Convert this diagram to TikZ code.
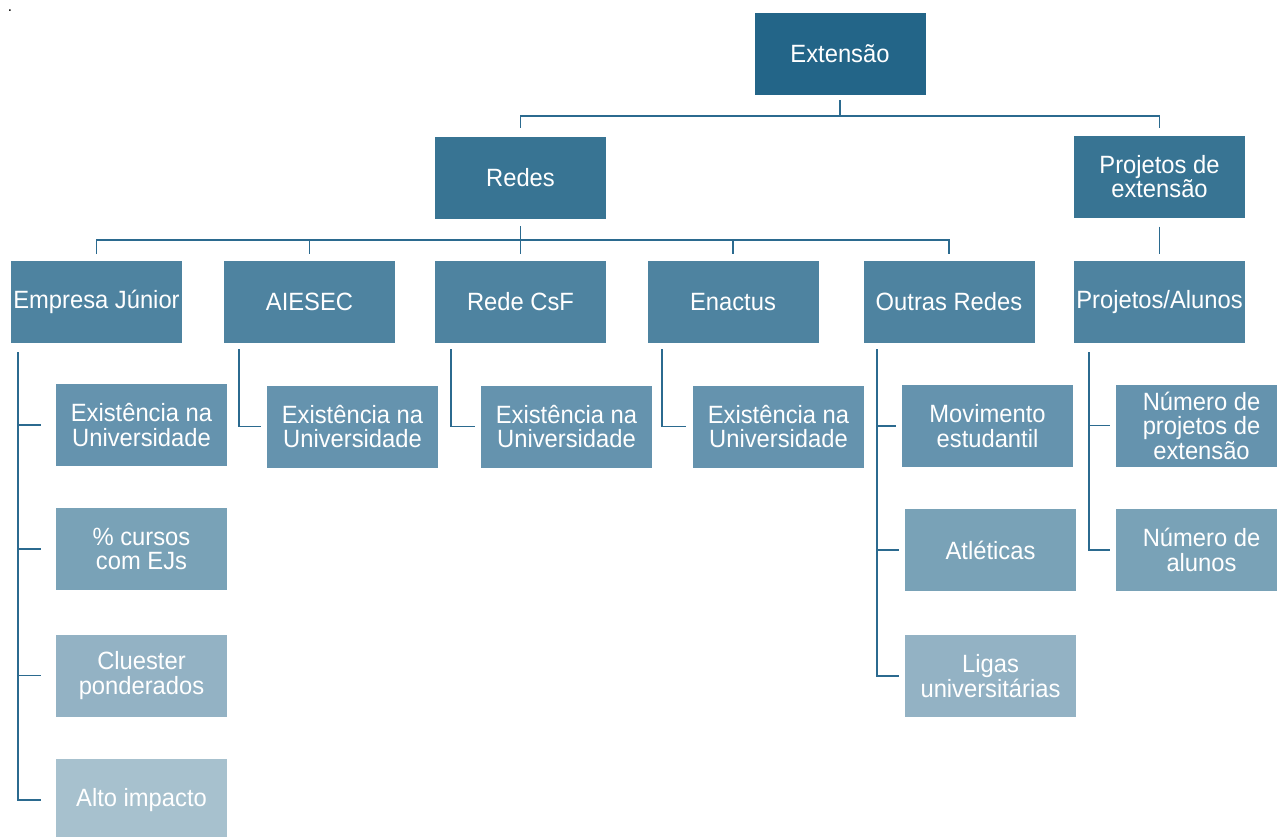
\documentclass[tikz,border=0pt]{standalone}
\usepackage{fontspec}
\setmainfont{Liberation Sans}[FakeStretch=0.95]
\definecolor{cA}{HTML}{236588}
\definecolor{cB}{HTML}{387493}
\definecolor{cC}{HTML}{4E83A0}
\definecolor{cD}{HTML}{6593AE}
\definecolor{cE}{HTML}{79A2B7}
\definecolor{cF}{HTML}{93B2C4}
\definecolor{cG}{HTML}{A7C1CE}
\definecolor{lineC}{HTML}{2B6A8F}
\tikzset{
  bx/.style={fill=#1, text=white, minimum width=171pt, minimum height=82pt,
    inner sep=0pt, align=center, font=\fontsize{25}{24.5}\selectfont},
  conn/.style={draw=lineC, line width=1.4pt},
}
\begin{document}
\begin{tikzpicture}[x=1pt,y=-1pt]
\useasboundingbox (0,0) rectangle (1277,836);
\clip (0,0) rectangle (1277,836);
\node[font=\fontsize{16}{16}\selectfont, inner sep=0pt, anchor=base] (dot) at (10,11) {.};
% level 0
\node[bx=cA] (ext) at (840,54) {Extensão};
% level 1
\node[bx=cB] (redes) at (520.5,178) {Redes};
\node[bx=cB] (pext) at (1159.5,176.5) {Projetos de\\extensão};
% level 2
\node[bx=cC] (ej) at (96.5,302) {Empresa Júnior};
\node[bx=cC] (aiesec) at (309.5,302) {AIESEC};
\node[bx=cC] (csf) at (520.5,302) {Rede CsF};
\node[bx=cC] (enac) at (733,302) {Enactus};
\node[bx=cC] (outras) at (949,302) {Outras Redes};
\node[bx=cC] (pa) at (1159.5,302) {Projetos/Alunos};
% level 3
\node[bx=cD] (ej1) at (141.5,425) {Existência na\\Universidade};
\node[bx=cE] (ej2) at (141.5,549) {\% cursos\\com EJs};
\node[bx=cF] (ej3) at (141.5,675.5) {Cluester\\ponderados};
\node[bx=cG] (ej4) at (141.5,800) {Alto impacto};
\node[bx=cD] (ai1) at (352.5,426.5) {Existência na\\Universidade};
\node[bx=cD] (cs1) at (566.5,426.5) {Existência na\\Universidade};
\node[bx=cD] (en1) at (778.5,426.5) {Existência na\\Universidade};
\node[bx=cD] (ou1) at (987.5,426) {Movimento\\estudantil};
\node[bx=cE] (ou2) at (990.5,550) {Atléticas};
\node[bx=cF] (ou3) at (990.5,676) {Ligas\\universitárias};
\node[bx=cD] (pa1) at (1201.5,425.5) {Número de\\projetos de\\extensão};
\node[bx=cE] (pa2) at (1201.5,550) {Número de\\alunos};
% connectors level 0 -> 1
\coordinate (t0) at (840,116);
\draw[conn] ([yshift=-5pt]ext.south) -- (t0);
\draw[conn] (redes.north |- 0,127.5) -- (redes.north |- t0) -- (pext.north |- t0) -- (pext.north |- 0,127.5);
% Redes -> level 2
\coordinate (t1) at (520.5,240);
\draw[conn] ([yshift=-7pt]redes.south) -- (redes.south |- 0,254);
\draw[conn] (ej.north |- 0,254) -- (ej.north |- t1) -- (outras.north |- t1) -- (outras.north |- 0,254);
\draw[conn] (aiesec.north |- t1) -- (aiesec.north |- 0,254);
\draw[conn] (enac.north |- t1) -- (enac.north |- 0,254);
% Projetos de extensao -> Projetos/Alunos
\draw[conn] ([yshift=-9pt]pext.south) -- (pa.north |- 0,254);
% Empresa Junior children
\coordinate (ejv) at (18,352);
\draw[conn] (ejv) -- (ejv |- ej4.west) -- ([xshift=-15pt]ej4.west);
\foreach \n in {ej1,ej2,ej3} \draw[conn] (ejv |- \n.west) -- ([xshift=-15pt]\n.west);
% AIESEC
\coordinate (aiv) at (239,349);
\draw[conn] (aiv) -- (aiv |- ai1.west) -- ([xshift=-6pt]ai1.west);
\coordinate (csv) at (451,349);
\draw[conn] (csv) -- (csv |- cs1.west) -- ([xshift=-6pt]cs1.west);
\coordinate (env) at (662,349);
\draw[conn] (env) -- (env |- en1.west) -- ([xshift=-7pt]en1.west);
% Outras Redes
\coordinate (ouv) at (877,349);
\draw[conn] (ouv) -- (ouv |- ou3.west) -- ([xshift=-6pt]ou3.west);
\foreach \n in {ou1,ou2} \draw[conn] (ouv |- \n.west) -- ([xshift=-6pt]\n.west);
% Projetos/Alunos
\coordinate (pav) at (1089,352);
\draw[conn] (pav) -- (pav |- pa2.west) -- ([xshift=-6pt]pa2.west);
\draw[conn] (pav |- pa1.west) -- ([xshift=-6pt]pa1.west);
\end{tikzpicture}
\end{document}
